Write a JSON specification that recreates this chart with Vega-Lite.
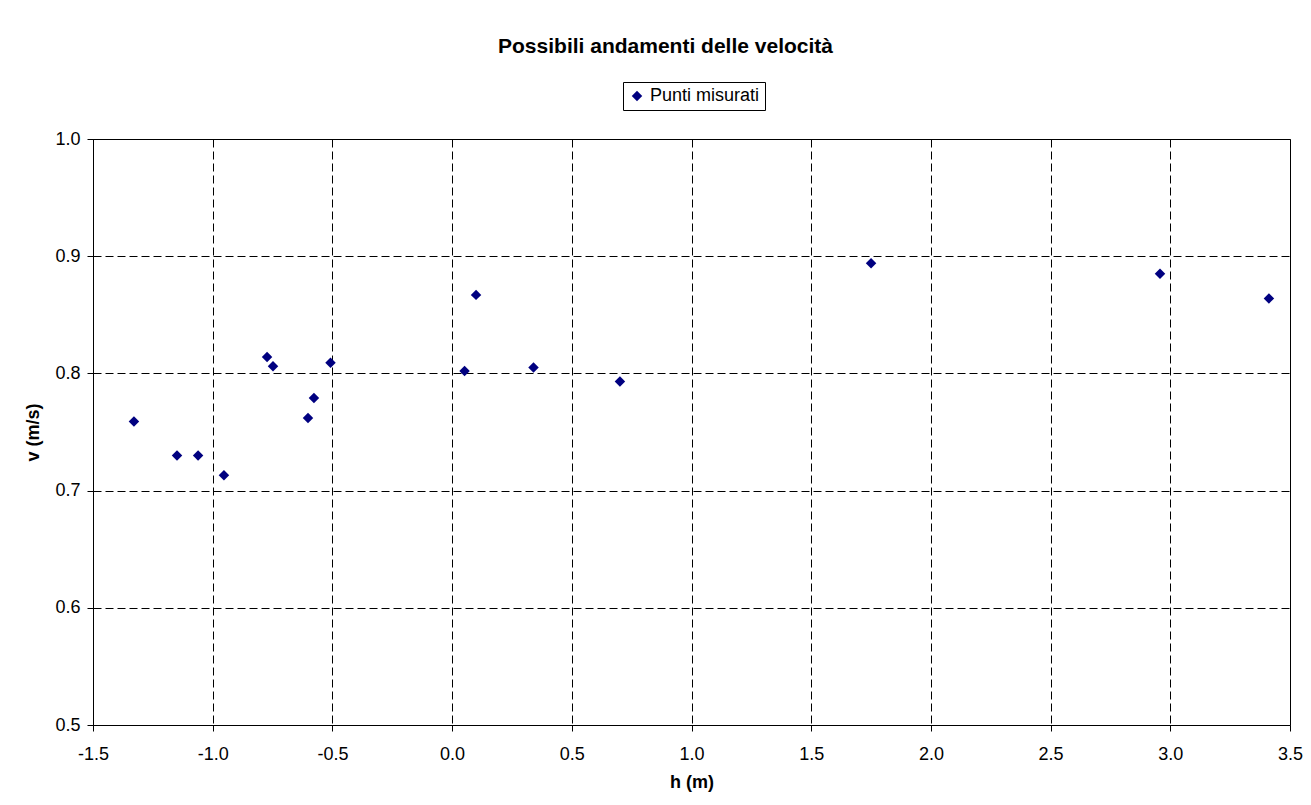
{
  "$schema": "https://vega.github.io/schema/vega-lite/v6.json",
  "autosize": "none",
  "width": 1197,
  "height": 586,
  "padding": {"left": 93, "top": 139, "right": 21, "bottom": 80},
  "background": "white",
  "title": {
    "text": "Possibili andamenti delle velocità",
    "font": "Liberation Sans",
    "fontSize": 21,
    "fontWeight": "bold",
    "color": "black",
    "anchor": "middle",
    "baseline": "alphabetic",
    "offset": 8,
    "dx": -26
  },
  "config": {
    "font": "Liberation Sans",
    "view": {"stroke": "black", "strokeWidth": 1},
    "axis": {
      "labelFont": "Liberation Sans",
      "labelFontSize": 18,
      "labelColor": "black",
      "titleFont": "Liberation Sans",
      "titleFontSize": 18,
      "titleFontWeight": "bold",
      "titleColor": "black",
      "domainColor": "black",
      "domainWidth": 1,
      "tickColor": "black",
      "tickSize": 6,
      "tickWidth": 1,
      "grid": true,
      "gridColor": "black",
      "gridDash": [8, 4],
      "gridWidth": 1,
      "gridOpacity": 1
    }
  },
  "data": {
    "values": [
      {"h": -1.329, "v": 0.759, "serie": "Punti misurati"},
      {"h": -1.149, "v": 0.730, "serie": "Punti misurati"},
      {"h": -1.061, "v": 0.730, "serie": "Punti misurati"},
      {"h": -0.953, "v": 0.713, "serie": "Punti misurati"},
      {"h": -0.773, "v": 0.814, "serie": "Punti misurati"},
      {"h": -0.748, "v": 0.806, "serie": "Punti misurati"},
      {"h": -0.602, "v": 0.762, "serie": "Punti misurati"},
      {"h": -0.577, "v": 0.779, "serie": "Punti misurati"},
      {"h": -0.508, "v": 0.809, "serie": "Punti misurati"},
      {"h": 0.052, "v": 0.802, "serie": "Punti misurati"},
      {"h": 0.100, "v": 0.867, "serie": "Punti misurati"},
      {"h": 0.340, "v": 0.805, "serie": "Punti misurati"},
      {"h": 0.701, "v": 0.793, "serie": "Punti misurati"},
      {"h": 1.750, "v": 0.894, "serie": "Punti misurati"},
      {"h": 2.957, "v": 0.885, "serie": "Punti misurati"},
      {"h": 3.412, "v": 0.864, "serie": "Punti misurati"}
    ]
  },
  "mark": {"type": "point", "shape": "diamond", "filled": true, "size": 110, "opacity": 1},
  "encoding": {
    "x": {
      "field": "h",
      "type": "quantitative",
      "title": "h (m)",
      "scale": {"domain": [-1.5, 3.5], "nice": false, "zero": false},
      "axis": {
        "values": [-1.5, -1.0, -0.5, 0, 0.5, 1.0, 1.5, 2.0, 2.5, 3.0, 3.5],
        "labelExpr": "replace(format(datum.value, '.1f'), '−', '-')",
        "labelPadding": 14,
        "titlePadding": 10,
        "labelFlush": false,
        "labelOverlap": false
      }
    },
    "y": {
      "field": "v",
      "type": "quantitative",
      "title": "v (m/s)",
      "scale": {"domain": [0.5, 1.0], "nice": false, "zero": false},
      "axis": {
        "values": [0.5, 0.6, 0.7, 0.8, 0.9, 1.0],
        "format": ".1f",
        "labelPadding": 7,
        "titlePadding": 12,
        "labelFlush": false,
        "labelOverlap": false
      }
    },
    "color": {
      "field": "serie",
      "type": "nominal",
      "scale": {"range": ["#000080"]},
      "legend": {
        "title": null,
        "orient": "none",
        "legendX": 530,
        "legendY": -57,
        "symbolType": "diamond",
        "symbolSize": 110,
        "symbolStrokeWidth": 0,
        "labelFont": "Liberation Sans",
        "labelFontSize": 18,
        "labelColor": "black",
        "labelOffset": 4,
        "padding": 5,
        "strokeColor": "black",
        "fillColor": "white"
      }
    }
  }
}
